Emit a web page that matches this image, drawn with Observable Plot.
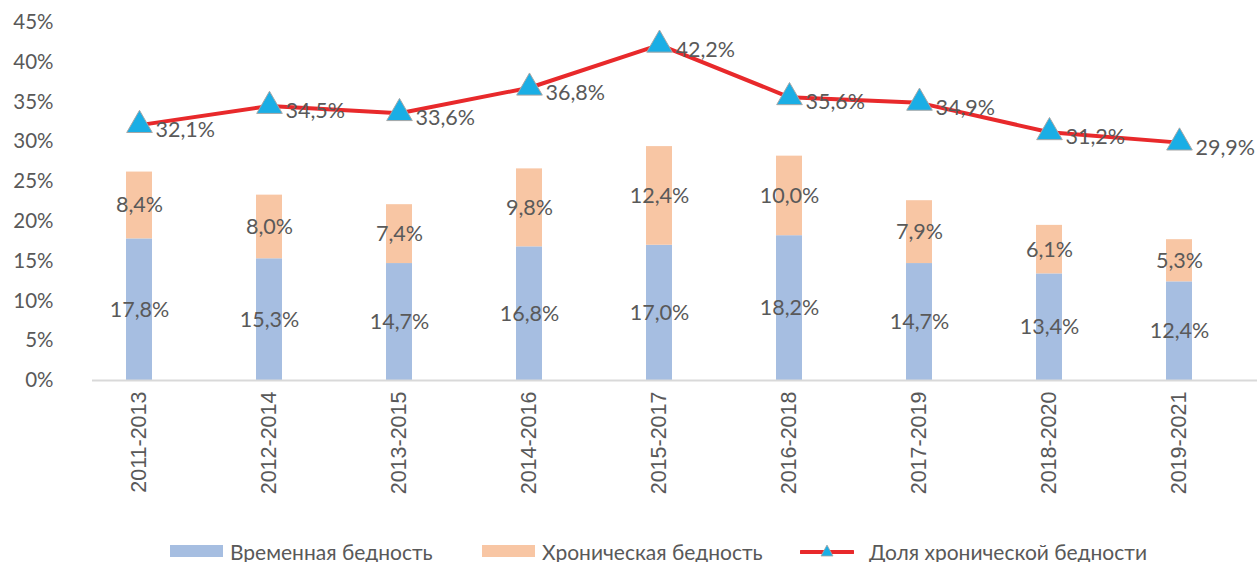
<!DOCTYPE html>
<html>
<head>
<meta charset="utf-8">
<script src="https://cdn.jsdelivr.net/npm/d3@7"></script>
<script src="https://cdn.jsdelivr.net/npm/@observablehq/plot@0.6"></script>
<style>
  html, body { margin: 0; padding: 0; background: #fff; }
  #chart { width: 1257px; }
  .legend { position: relative; height: 52px; font-family: Lato, sans-serif; font-size: 21px; color: #595959; }
  .legend .item { position: absolute; top: 28px; height: 26px; display: flex; align-items: center; white-space: nowrap; }
  .legend svg { display: block; }
</style>
</head>
<body>
<div id="chart"></div>
<script>
const periods = ["2011-2013","2012-2014","2013-2015","2014-2016","2015-2017","2016-2018","2017-2019","2018-2020","2019-2021"];
const temporary = [17.8, 15.3, 14.7, 16.8, 17.0, 18.2, 14.7, 13.4, 12.4];
const chronic = [8.4, 8.0, 7.4, 9.8, 12.4, 10.0, 7.9, 6.1, 5.3];
const chronicShare = [32.1, 34.5, 33.6, 36.8, 42.2, 35.6, 34.9, 31.2, 29.9];
const seriesNames = ["Временная бедность", "Хроническая бедность", "Доля хронической бедности"];
const yTicks = [0, 5, 10, 15, 20, 25, 30, 35, 40, 45];

const colors = { temp: "#A6BEE1", chron: "#F8C6A4", line: "#E8292B", tri: "#1AAEE5", text: "#595959" };
const fmt = v => v.toFixed(1).replace(".", ",") + "%";

const bars = [];
periods.forEach((p, i) => {
  bars.push({ period: p, series: seriesNames[0], y1: 0, y2: temporary[i], value: temporary[i], color: colors.temp });
});
periods.forEach((p, i) => {
  bars.push({ period: p, series: seriesNames[1], y1: temporary[i], y2: temporary[i] + chronic[i], value: chronic[i], color: colors.chron });
});
const lineRows = periods.map((p, i) => ({ period: p, value: chronicShare[i] }));

const plot = Plot.plot({
  width: 1257,
  height: 510,
  marginLeft: 92,
  marginRight: 0,
  marginTop: 22,
  marginBottom: 130,
  style: { fontFamily: "Lato, sans-serif", fontSize: "21px", color: colors.text, background: "white", overflow: "visible" },
  x: { domain: periods, range: [71, 1246], paddingInner: 0.8, paddingOuter: 0.4 },
  y: { domain: [0, 45] },
  marks: [
    Plot.axisY({ ticks: yTicks, tickFormat: d => d + "%", tickSize: 0, tickPadding: 39, label: null, fontSize: 20.5, fill: colors.text }),
    Plot.axisX({ tickRotate: -90, tickSize: 0, tickPadding: 11, label: null, fontFamily: "'Liberation Sans', Arial, sans-serif", fontSize: 21.5, fill: colors.text }),
    Plot.barY(bars, { x: "period", y1: "y1", y2: "y2", fill: "color" }),
    Plot.ruleY([0], { stroke: "#d9d9d9", strokeWidth: 2 }),
    Plot.text(bars, { x: "period", y: d => (d.y1 + d.y2) / 2, text: d => fmt(d.value), fill: colors.text, fontSize: 21.5 }),
    Plot.line(lineRows, { x: "period", y: "value", stroke: colors.line, strokeWidth: 4 }),
    Plot.dot(lineRows, { x: "period", y: "value", symbol: "triangle", r: 9.5, fill: colors.tri, stroke: "#a6a6a6", strokeWidth: 1 }),
    Plot.text(lineRows, { x: "period", y: "value", text: d => fmt(d.value), textAnchor: "start", dx: 16, dy: 5, fill: colors.text, fontSize: 21.5 })
  ]
});
document.getElementById("chart").appendChild(plot);

// legend
const legend = document.createElement("div");
legend.className = "legend";
legend.innerHTML = `
  <div class="item" style="left:170px"><svg width="53" height="14"><rect x="0" y="1" width="53" height="12" fill="${colors.temp}"/></svg><span style="margin-left:7px">${seriesNames[0]}</span></div>
  <div class="item" style="left:482px"><svg width="53" height="14"><rect x="0" y="1" width="53" height="12" fill="${colors.chron}"/></svg><span style="margin-left:7px">${seriesNames[1]}</span></div>
  <div class="item" style="left:800px"><svg width="54" height="16"><line x1="1" x2="53" y1="9" y2="9" stroke="${colors.line}" stroke-width="4" stroke-linecap="round"/><path d="M27,2 L33,13 L21,13 Z" fill="${colors.tri}" stroke="#a6a6a6" stroke-width="0.8"/></svg><span style="margin-left:15px">${seriesNames[2]}</span></div>
`;
document.getElementById("chart").appendChild(legend);
</script>
</body>
</html>
